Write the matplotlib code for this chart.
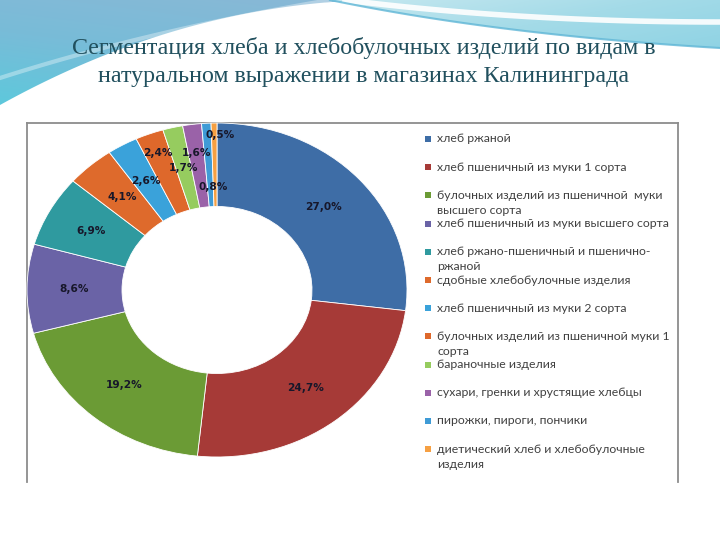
import numpy as np
import matplotlib
matplotlib.use("Agg")
import matplotlib.pyplot as plt
from matplotlib.patches import Polygon
from matplotlib.colors import LinearSegmentedColormap

# ---------------- data ----------------
categories = [
    "хлеб ржаной",
    "хлеб пшеничный из муки 1 сорта",
    "булочных изделий из пшеничной  муки\nвысшего сорта",
    "хлеб пшеничный из муки высшего сорта",
    "хлеб ржано-пшеничный и пшенично-\nржаной",
    "сдобные хлебобулочные изделия",
    "хлеб пшеничный из муки 2 сорта",
    "булочных изделий из пшеничной муки 1\nсорта",
    "бараночные изделия",
    "сухари, гренки и хрустящие хлебцы",
    "пирожки, пироги, пончики",
    "диетический хлеб и хлебобулочные\nизделия",
]
shares = [27.0, 24.7, 19.2, 8.6, 6.9, 4.1, 2.6, 2.4, 1.7, 1.6, 0.8, 0.5]
share_labels = ["27,0%", "24,7%", "19,2%", "8,6%", "6,9%", "4,1%",
                "2,6%", "2,4%", "1,7%", "1,6%", "0,8%", "0,5%"]
title = ("Сегментация хлеба и хлебобулочных изделий по видам в\n"
         "натуральном выражении в магазинах Калининграда")

colors = ["#3E6DA6", "#A63A37", "#6B9B35", "#6A63A6", "#2F9A9F", "#DE6A2C",
          "#3AA2DA", "#DE682B", "#96CC5F", "#9A62A8", "#3F9BD6", "#F6A043"]
# label placement tweaks (radius fraction, x shift in px)
label_r = [0.75, 0.75, 0.75, 0.75, 0.75, 0.75, 0.75, 0.88, 0.75, 0.83, 0.62, 0.93]
label_dx = [0, 0, 0, 0, 0, 0, 0, 0, 0, 0, 3, 6]

W, H = 720, 540
fig = plt.figure(figsize=(W / 100, H / 100), dpi=100)
fig.patch.set_facecolor("white")

# ---------------- background / decoration (pixel coords) ----------------
bg = fig.add_axes([0, 0, 1, 1], zorder=0)
bg.set_xlim(0, W)
bg.set_ylim(H, 0)
bg.axis("off")


def bez(p0, p1, p2, n=80):
    t = np.linspace(0, 1, n)[:, None]
    p0, p1, p2 = map(np.array, (p0, p1, p2))
    return (1 - t) ** 2 * p0 + 2 * (1 - t) * t * p1 + t ** 2 * p2


# left blue swoosh
curve = bez((370, 0), (180, 5), (0, 105))
poly_left = np.vstack([[(0, 0), (370, 0)], curve, [(0, 105)]])
pl = Polygon(poly_left, closed=True, facecolor="none", edgecolor="none")
bg.add_patch(pl)
cmap_l = LinearSegmentedColormap.from_list("l", ["#8ab8d6", "#78bcd8", "#5cc9dc"])
yy, xx = np.mgrid[0:110, 0:370]
grad = (yy / 110.0) * 0.7 + (1 - xx / 370.0) * 0.3
im = bg.imshow(grad, cmap=cmap_l, extent=[0, 370, 110, 0], aspect="auto",
               interpolation="bilinear", zorder=1)
im.set_clip_path(pl)
stripe = bez((0, 78), (150, 30), (330, 0))
bg.plot(stripe[:, 0], stripe[:, 1], color="white", lw=3, alpha=0.35, zorder=2)

# right cyan swoosh
curve_r = bez((330, 0), (500, 35), (720, 48))
poly_r = np.vstack([[(330, 0)], [(720, 0)], curve_r[::-1]])
pr = Polygon(poly_r, closed=True, facecolor="none", edgecolor="none")
bg.add_patch(pr)
cmap_r = LinearSegmentedColormap.from_list("r", ["#c6e8f0", "#a4dbe8", "#8fd3e4"])
yy2, xx2 = np.mgrid[0:50, 330:720]
grad2 = (xx2 - 330) / 390.0 * 0.6 + yy2 / 50.0 * 0.4
im2 = bg.imshow(grad2, cmap=cmap_r, extent=[330, 720, 50, 0], aspect="auto",
                interpolation="bilinear", zorder=1)
im2.set_clip_path(pr)
wst = bez((345, 0), (520, 22), (720, 22))
bg.plot(wst[:, 0], wst[:, 1], color="white", lw=4, alpha=0.9, zorder=2)
bg.plot(curve_r[:, 0], curve_r[:, 1], color="#5fb6d6", lw=1.5, alpha=0.8, zorder=2)
bg.set_xlim(0, W)
bg.set_ylim(H, 0)

# title
bg.text(364, 62, title, ha="center", va="center", fontsize=17.3,
        family="Liberation Serif", color="#21505E", linespacing=1.4, zorder=5)

# chart frame
fc = "#8c8c8c"
bg.plot([27, 27], [482, 123], color=fc, lw=1.3, zorder=3)
bg.plot([27, 678], [123, 123], color=fc, lw=1.3, zorder=3)
bg.plot([678, 678], [123, 482], color=fc, lw=1.3, zorder=3)

# legend
slot0, step = 139, 28.2
for i, (lab, col) in enumerate(zip(categories, colors)):
    y = slot0 + step * i
    bg.scatter([428], [y], marker="s", s=22, color=col, zorder=4, linewidths=0)
    for j, line in enumerate(lab.split("\n")):
        bg.text(437, y + 15 * j, line, ha="left", va="center", fontsize=8.8,
                family="Lato", color="#404040", zorder=4)

# ---------------- donut ----------------
cx, cy, rx, ry = 217, 290, 190, 167
ax = fig.add_axes([(cx - rx) / W, 1 - (cy + ry) / H, 2 * rx / W, 2 * ry / H], zorder=2)
ax.patch.set_alpha(0)
wedges, _ = ax.pie(shares, colors=colors, startangle=90, counterclock=False,
                   radius=1.0, wedgeprops=dict(width=0.5, edgecolor="white", linewidth=0.6))
ax.set_aspect("auto")
ax.set_xlim(-1, 1)
ax.set_ylim(-1, 1)
ax.axis("off")

total = float(np.sum(shares))
cum = 0.0
for v, lab, r, dx in zip(shares, share_labels, label_r, label_dx):
    mid = cum + v / 2.0
    th = np.deg2rad(90 - 360.0 * mid / total)
    ax.text(r * np.cos(th) + dx / rx, r * np.sin(th), lab, ha="center", va="center",
            fontsize=7.6, fontweight="bold", family="DejaVu Sans", color="#17172a")
    cum += v

fig.savefig("out.png", dpi=100)
